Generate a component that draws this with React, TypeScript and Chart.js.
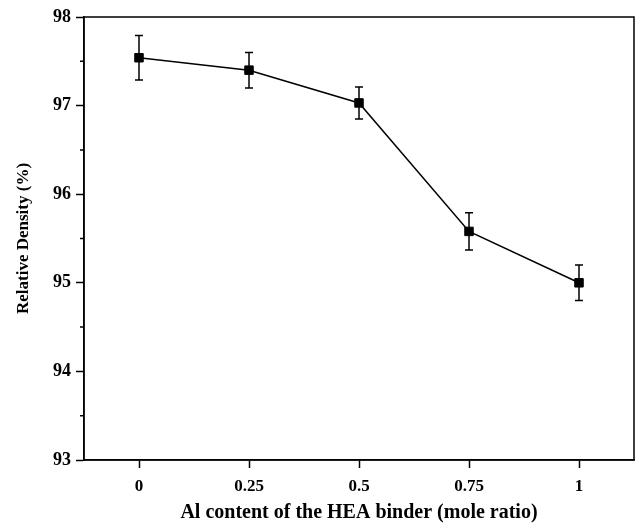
import React, { useEffect, useRef } from "react";
import { Chart, registerables } from "chart.js";

Chart.register(...registerables);

const alContent = [0, 0.25, 0.5, 0.75, 1];
const relativeDensity = [97.54, 97.4, 97.03, 95.58, 95.0];
const densityError = [0.25, 0.2, 0.18, 0.21, 0.2];
const xTickValues = [0, 0.25, 0.5, 0.75, 1];
const yMinorTicks = [93.5, 94.5, 95.5, 96.5, 97.5];

const FONT = "'Liberation Serif', 'Times New Roman', serif";

const framePlugin = {
  id: "frameAndErrors",
  beforeDatasetsDraw(chart: any) {
    const { ctx } = chart;
    const xs = chart.scales.x;
    const ys = chart.scales.y;
    ctx.save();
    ctx.strokeStyle = "#000";
    ctx.lineWidth = 1.5;
    alContent.forEach((xv, i) => {
      const px = xs.getPixelForValue(xv);
      const top = ys.getPixelForValue(relativeDensity[i] + densityError[i]);
      const bot = ys.getPixelForValue(relativeDensity[i] - densityError[i]);
      const cap = 4;
      ctx.beginPath();
      ctx.moveTo(px, top);
      ctx.lineTo(px, bot);
      ctx.moveTo(px - cap, top);
      ctx.lineTo(px + cap, top);
      ctx.moveTo(px - cap, bot);
      ctx.lineTo(px + cap, bot);
      ctx.stroke();
    });
    ctx.restore();
  },
  afterDraw(chart: any) {
    const { ctx, chartArea } = chart;
    const ys = chart.scales.y;
    ctx.save();
    ctx.strokeStyle = "#000";
    ctx.lineWidth = 1.5;
    ctx.strokeRect(
      chartArea.left,
      chartArea.top,
      chartArea.right - chartArea.left,
      chartArea.bottom - chartArea.top
    );
    ctx.beginPath();
    yMinorTicks.forEach((v) => {
      const py = ys.getPixelForValue(v);
      ctx.moveTo(chartArea.left - 4, py);
      ctx.lineTo(chartArea.left, py);
    });
    ctx.stroke();
    ctx.restore();
  },
};

export default function App() {
  const ref = useRef<HTMLCanvasElement>(null);
  useEffect(() => {
    if (!ref.current) return;
    const chart = new Chart(ref.current, {
      type: "line",
      data: {
        datasets: [
          {
            data: alContent.map((x, i) => ({ x, y: relativeDensity[i] })),
            borderColor: "#000",
            backgroundColor: "#000",
            borderWidth: 1.5,
            pointStyle: "rect",
            pointRadius: 6,
            pointBorderWidth: 1,
            pointBackgroundColor: "#000",
            pointBorderColor: "#000",
            tension: 0,
          },
        ],
      },
      options: {
        responsive: false,
        animation: false,
        layout: { padding: { top: 17, right: 5, left: 0, bottom: 0 }, autoPadding: false },
        plugins: { legend: { display: false }, tooltip: { enabled: false } },
        scales: {
          x: {
            type: "linear",
            min: -0.125,
            max: 1.125,
            afterBuildTicks: (scale: any) => {
              scale.ticks = xTickValues.map((v) => ({ value: v }));
            },
            afterFit: (scale: any) => {
              scale.height = 65;
            },
            ticks: {
              color: "#000",
              font: { family: FONT, size: 17, weight: "bold" },
              padding: 8,
              maxRotation: 0,
              autoSkip: false,
              callback: (v: any) => String(v),
            },
            grid: {
              drawOnChartArea: false,
              drawTicks: true,
              tickLength: 8,
              tickColor: "#000",
              tickWidth: 1.5,
            },
            border: { display: true, color: "#000", width: 1.5 },
            title: {
              display: true,
              text: "Al content of the HEA binder (mole ratio)",
              color: "#000",
              font: { family: FONT, size: 20, weight: "bold" },
              padding: { top: 0, bottom: 0 },
            },
          },
          y: {
            type: "linear",
            min: 93,
            max: 98,
            afterFit: (scale: any) => {
              scale.width = 84;
            },
            ticks: {
              stepSize: 1,
              color: "#000",
              font: { family: FONT, size: 18, weight: "bold" },
              padding: 5,
            },
            grid: {
              drawOnChartArea: false,
              drawTicks: true,
              tickLength: 8,
              tickColor: "#000",
              tickWidth: 1.5,
            },
            border: { display: true, color: "#000", width: 1.5 },
            title: {
              display: true,
              text: "Relative Density (%)",
              color: "#000",
              font: { family: FONT, size: 17, weight: "bold" },
              padding: { top: 13, bottom: 0 },
            },
          },
        },
      },
      plugins: [framePlugin],
    });
    return () => chart.destroy();
  }, []);
  return (
    <div style={{ position: "absolute", left: 0, top: 0, width: 639, height: 525, background: "#fff" }}>
      <canvas ref={ref} width={639} height={525} style={{ display: "block" }} />
    </div>
  );
}
